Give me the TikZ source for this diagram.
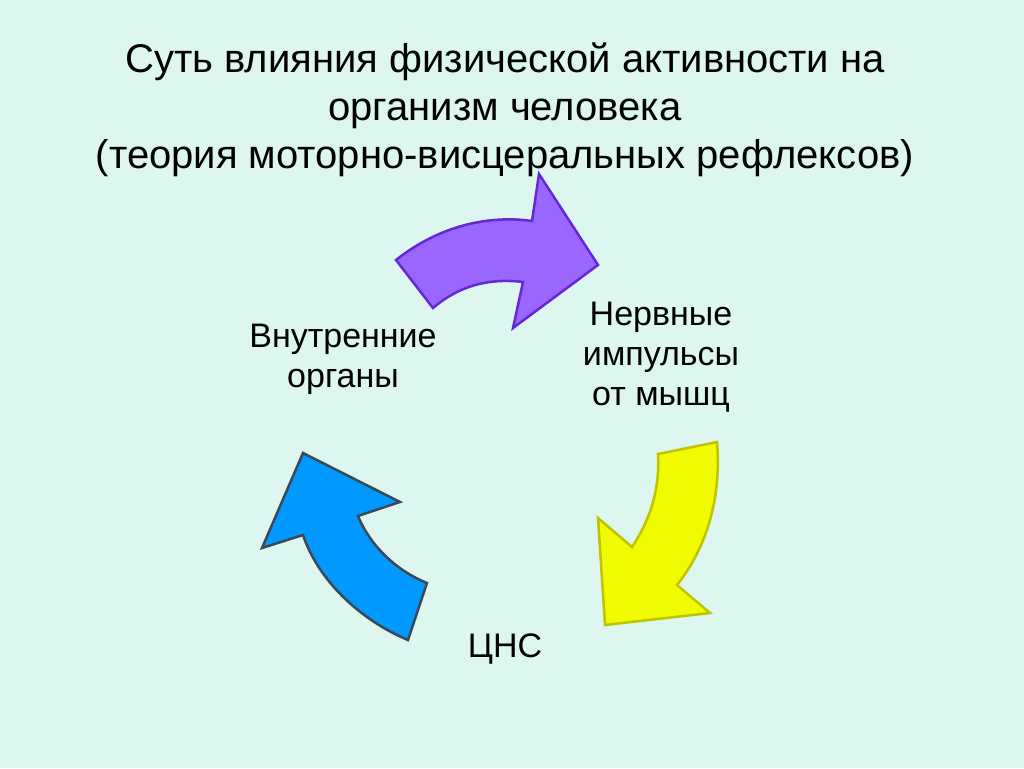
\documentclass[tikz,border=0pt]{standalone}
\usepackage{fontspec}
\setmainfont{Liberation Sans}
\usepackage{xcolor}
\definecolor{Mint}{RGB}{221,246,240}
\definecolor{Violet}{RGB}{153,102,255}
\definecolor{VioletLine}{RGB}{102,40,214}
\definecolor{Lemon}{RGB}{240,250,0}
\definecolor{LemonLine}{RGB}{190,196,0}
\definecolor{Sky}{RGB}{0,153,255}
\definecolor{SkyLine}{RGB}{60,72,84}

\begin{document}
\begin{tikzpicture}[x=1pt, y=-1pt, line width=2.5pt, line join=miter,
      every node/.append style={inner sep=0pt, outer sep=0pt, align=center, anchor=base,
        font=\fontsize{34}{40}\selectfont},
      headline/.style={font=\fontsize{40}{48}\selectfont}]
    \fill[Mint] (0,0) rectangle (1024,768);
    \useasboundingbox (0,0) rectangle (1024,768);
    \node (title) [headline] at (505,168) {Суть влияния физической активности на\\организм человека\\(теория моторно-висцеральных рефлексов)};
    \node (organs) at (343,387) {Внутренние\\органы};
    \node (impulses) at (661,405) {Нервные\\импульсы\\от мышц};
    \node (CNS) at (505,657) {ЦНС};
    \draw[draw=VioletLine, fill=Violet] (396,260) .. controls (440,225) and (490,215) .. (532,221)
      -- (539,174) -- (598,265) -- (513,328) -- (523,282)
      .. controls (490,278) and (460,285) .. (433,308) -- cycle;
    \draw[draw=LemonLine, fill=Lemon] (658,454) -- (717,442)
      .. controls (722,500) and (705,550) .. (677,585)
      -- (710,613) -- (605,625) -- (598,518) -- (632,547)
      .. controls (650,520) and (660,490) .. (658,454) -- cycle;
    \draw[draw=SkyLine, fill=Sky] (303,453) -- (400,502) -- (358,516)
      .. controls (370,545) and (395,570) .. (427,583) -- (408,640)
      .. controls (360,620) and (318,580) .. (303,535) -- (262,548) -- cycle;
\end{tikzpicture}
\end{document}
